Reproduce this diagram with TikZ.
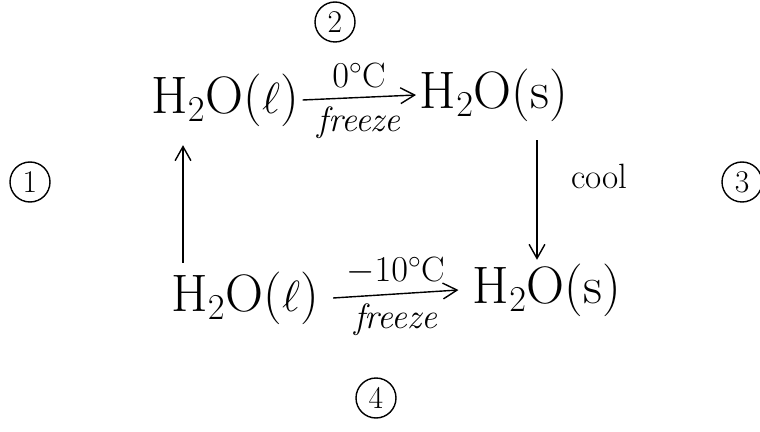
\documentclass[tikz,border=0pt]{standalone}
\usetikzlibrary{arrows.meta}
\begin{document}
\begin{tikzpicture}[
  x=0.02cm, y=-0.02cm,
  every node/.style={inner sep=2pt},
  mol/.style={font=\fontsize{30}{34}\selectfont},
  lbl/.style={font=\fontsize{20}{23}\selectfont},
  lblit/.style={font=\fontsize{20}{23}\selectfont\itshape},
  stepnum/.style={circle, draw=black, thick, minimum size=0.8cm, inner sep=0pt, font=\fontsize{18}{21}\selectfont},
  conv/.style={-{Straight Barb[length=8pt, width=9pt]}, thick, black}
]
\useasboundingbox (0,0) rectangle (760,432);

% Stoffe
\node[mol] (lt) at (225, 100) {H$_2$O($\ell$)};
\node[mol] (rt) at (494, 95) {H$_2$O(s)};
\node[mol] (lb) at (245, 298) {H$_2$O($\ell$)};
\node[mol] (rb) at (547, 290) {H$_2$O(s)};

% Schritte
\node[stepnum] (s1) at (30, 182) {1};
\node[stepnum] (s2) at (335, 22) {2};
\node[stepnum] (s3) at (742, 182) {3};
\node[stepnum] (s4) at (376, 398) {4};

% Pfeile
\draw[conv] (lt.east) -- (rt.west)
  node[midway, above=3pt, lbl] (t0) {$0^\circ$C}
  node[midway, below=3pt, lblit] (tf) {freeze};
\draw[conv] ([xshift=6pt]lb.east) -- ([xshift=-6pt]rb.west)
  node[midway, above=3pt, lbl] (t10) {$-10^\circ$C}
  node[midway, below=3pt, lblit] (bf) {freeze};
\draw[conv] ([xshift=-1.24cm, yshift=0.1cm]lb.north) -- ([xshift=-1.24cm, yshift=-0.3cm]lb.north |- lt.south);
\draw[conv] ([xshift=0.86cm, yshift=-0.3cm]rt.south) -- ([xshift=0.86cm]rt.south |- rb.north)
  node[pos=0.3, right=0.6cm, lbl] (cl) {cool};
\end{tikzpicture}
\end{document}
